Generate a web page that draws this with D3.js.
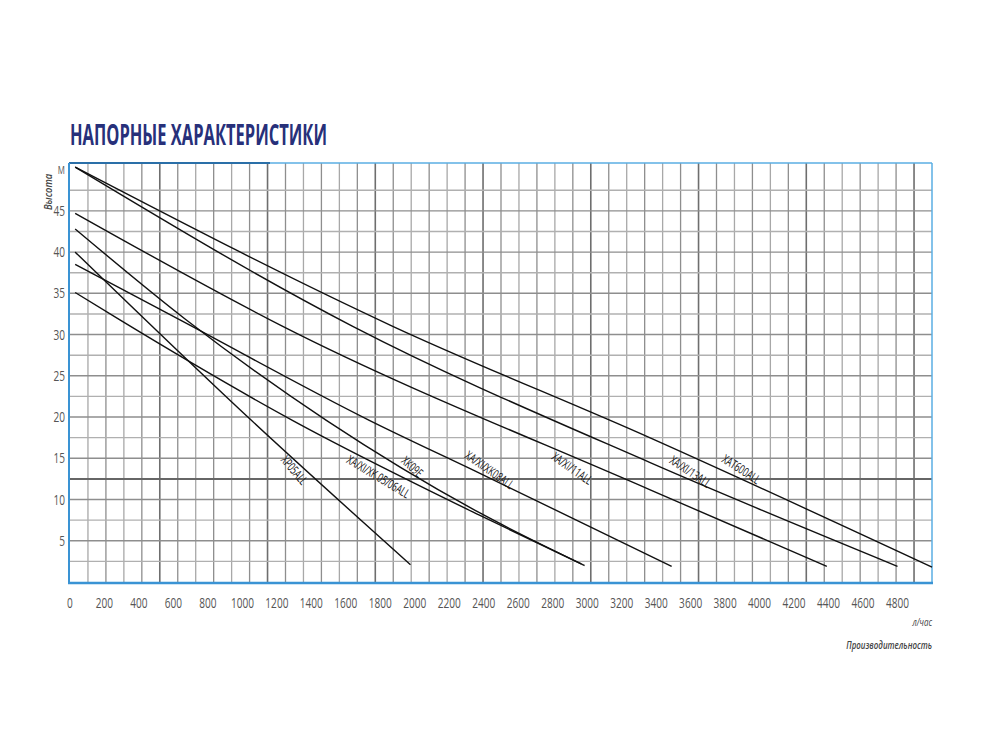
<!DOCTYPE html>
<html><head><meta charset="utf-8">
<script src="https://cdn.jsdelivr.net/npm/d3@7"></script>
<style>body{margin:0;background:#fff}svg{display:block}</style>
</head><body>
<svg id="c" width="1000" height="750"></svg>
<script>
// ---------- data ----------
const seriesNames = ["XAT600ALL","XA/XI/13ALL","XA/XI/11ALL","XA/XI/XK08ALL","XK09E","XA/XI/XK 05/06ALL","XP05ALL"];
const flowXAT600 = [30, 1872, 3362, 5000];
const headXAT600 = [50.3, 31.0, 17.5, 1.8];
const flow13 = [30, 1640, 3362, 4800];
const head13 = [50.3, 31.0, 14.5, 1.9];
const flow11 = [30, 1234, 3362, 4390];
const head11 = [44.7, 31.0, 11.2, 1.9];
const flow08 = [30, 635, 1736, 2375, 3490];
const head08 = [38.5, 31.8, 19.6, 13.2, 1.9];
const flow09 = [30, 673, 1487, 2375, 2966];
const head09 = [42.8, 31.8, 19.6, 8.4, 2.2];
const flow0506 = [30, 287, 1290, 2375, 2985];
const head0506 = [35.1, 31.8, 19.6, 8.1, 2.0];
const flowXP05 = [30, 1052, 1975];
const headXP05 = [40.0, 19.6, 2.1];
// label anchor (flow, head) and angle for each series label
const labelFlow = [3895, 3599, 2914, 2435, 1987, 1790, 1302];
const labelHead = [13.7, 13.4, 13.8, 13.6, 14.0, 12.8, 13.6];
const labelAngle = [33, 34, 35, 35, 42, 31, 50];
const xTicks = [0,200,400,600,800,1000,1200,1400,1600,1800,2000,2200,2400,2600,2800,3000,3200,3400,3600,3800,4000,4200,4400,4600,4800];
const yTicks = [5,10,15,20,25,30,35,40,45];
const yTopLabel = "M";
const title = "НАПОРНЫЕ ХАРАКТЕРИСТИКИ";
const yTitle = "Высота";
const xUnit = "л/час";
const xTitle = "Производительность";

const flows = [flowXAT600, flow13, flow11, flow08, flow09, flow0506, flowXP05];
const heads = [headXAT600, head13, head11, head08, head09, head0506, headXP05];

// ---------- chart ----------
const svg = d3.select("#c");
const L = 70, R = 932, T = 163, B = 582;
const x = d3.scaleLinear().domain([0, 5000]).range([L, R]);
const y = d3.scaleLinear().domain([0, 50.8]).range([B, T]);
const gx = d3.scaleLinear().domain([0, 48]).range([L, R]);

// grid
const g = svg.append("g");
g.selectAll("line.v").data(d3.range(1, 48)).join("line")
  .attr("x1", d => gx(d)).attr("x2", d => gx(d)).attr("y1", T).attr("y2", B)
  .attr("stroke", d => d % 6 === 5 ? "#6e6e6e" : (d % 2 ? "#a8a8a8" : "#8e8e8e"))
  .attr("stroke-width", d => d % 6 === 5 ? 1.6 : 1.3);
g.selectAll("line.h").data(d3.range(2.5, 48, 2.5)).join("line")
  .attr("x1", L).attr("x2", R).attr("y1", d => y(d)).attr("y2", d => y(d))
  .attr("stroke", d => d === 12.5 ? "#666" : (d % 5 === 0 ? "#8e8e8e" : "#b0b0b0"))
  .attr("stroke-width", d => d === 12.5 ? 2 : 1.4);

// frame
svg.append("line").attr("x1", L).attr("x2", R).attr("y1", T).attr("y2", T).attr("stroke", "#5aaee3").attr("stroke-width", 1.5);
svg.append("line").attr("x1", L - 1).attr("x2", x(1160)).attr("y1", T).attr("y2", T).attr("stroke", "#2a6fa8").attr("stroke-width", 2.2);
svg.append("line").attr("x1", L - 1).attr("x2", L - 1).attr("y1", T).attr("y2", B + 1).attr("stroke", "#3a93d4").attr("stroke-width", 2);
svg.append("line").attr("x1", R).attr("x2", R).attr("y1", T).attr("y2", B + 1).attr("stroke", "#5aaee3").attr("stroke-width", 1.5);
svg.append("line").attr("x1", L - 2).attr("x2", R + 1).attr("y1", B + 1).attr("y2", B + 1).attr("stroke", "#3a93d4").attr("stroke-width", 2.5);

// curves
const line = d3.line().x(d => x(d[0])).y(d => y(d[1])).curve(d3.curveMonotoneX);
svg.append("g").selectAll("path").data(seriesNames.map((n, i) => d3.zip(flows[i], heads[i]))).join("path")
  .attr("d", line).attr("fill", "none").attr("stroke", "#111").attr("stroke-width", 1.4);

// series labels
svg.append("g").selectAll("text").data(seriesNames).join("text")
  .attr("transform", (d, i) => `translate(${x(labelFlow[i])},${y(labelHead[i])}) rotate(${labelAngle[i]}) scale(0.66,1)`)
  .attr("text-anchor", "middle").attr("dominant-baseline", "central")
  .attr("font-family", "Open Sans, sans-serif").attr("font-size", 12.5).attr("fill", "#111")
  .text(d => d);

// x tick labels
svg.append("g").selectAll("text").data(xTicks).join("text")
  .attr("transform", d => `translate(${x(d)},${608}) scale(0.72,1)`)
  .attr("text-anchor", "middle")
  .attr("font-family", "Open Sans, sans-serif").attr("font-size", 14).attr("fill", "#555")
  .text(d => d);

// y tick labels
svg.append("g").selectAll("text").data(yTicks).join("text")
  .attr("transform", d => `translate(${65},${y(d) + 5}) scale(0.72,1)`)
  .attr("text-anchor", "end")
  .attr("font-family", "Open Sans, sans-serif").attr("font-size", 14).attr("fill", "#555")
  .text(d => d);
svg.append("text").attr("transform", `translate(${65},${y(50) + 4}) scale(0.72,1)`)
  .attr("text-anchor", "end").attr("font-family", "Open Sans, sans-serif").attr("font-size", 11).attr("fill", "#555")
  .text(yTopLabel);

// axis titles
svg.append("text").attr("transform", `translate(52,${192}) rotate(-90) scale(0.85,1)`)
  .attr("text-anchor", "middle").attr("font-family", "Open Sans, sans-serif").attr("font-style", "italic")
  .attr("font-weight", "600").attr("font-size", 11).attr("fill", "#444").text(yTitle);
svg.append("text").attr("transform", `translate(${R},${626}) scale(0.72,1)`)
  .attr("text-anchor", "end").attr("font-family", "Open Sans, sans-serif").attr("font-style", "italic")
  .attr("font-size", 11).attr("fill", "#444").text(xUnit);
svg.append("text").attr("transform", `translate(${R},${649}) scale(0.72,1)`)
  .attr("text-anchor", "end").attr("font-family", "Open Sans, sans-serif").attr("font-style", "italic")
  .attr("font-weight", "600").attr("font-size", 11).attr("fill", "#444").text(xTitle);

// title
svg.append("text").attr("x", 70).attr("y", 145)
  .attr("font-family", "Open Sans, sans-serif").attr("font-weight", "bold").attr("font-size", 28)
  .attr("fill", "#27307a").attr("textLength", 257).attr("lengthAdjust", "spacingAndGlyphs")
  .text(title);
</script>
</body></html>
